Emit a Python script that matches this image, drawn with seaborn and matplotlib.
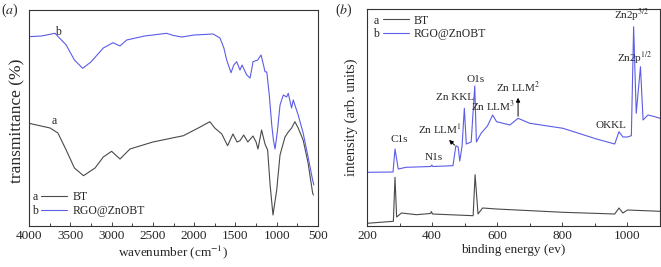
import matplotlib
matplotlib.use("Agg")
import matplotlib.pyplot as plt
from matplotlib.ticker import MultipleLocator
from matplotlib.lines import Line2D
import seaborn as sns
import pandas as pd

# (a) FTIR, transmittance in arbitrary offset units
ftir_bt_x = [4000, 3745, 3650, 3550, 3450, 3340, 3200, 3100, 3000, 2898, 2777, 2500, 2130,
             1950, 1810, 1750, 1665, 1595, 1530, 1480, 1445, 1400, 1350, 1287, 1250, 1227,
             1183, 1142, 1110, 1080, 1045, 1000, 960, 900, 860, 820, 780, 740, 680, 620, 565, 555]
ftir_bt_y = [102.7, 98, 93, 76, 58, 50.3, 58, 69, 74.7, 67, 77, 84, 90.3,
             98, 104.3, 98, 92, 80.3, 92, 84, 85.3, 91, 84, 90, 84, 77,
             96, 82, 76, 41, 11, 36, 71, 89, 94, 98, 104.3, 98, 86, 63, 33, 31]
ftir_rgo_x = [4000, 3850, 3685, 3550, 3450, 3350, 3250, 3100, 2983, 2898, 2817, 2600, 2333,
              2250, 2150, 2000, 1770, 1687, 1640, 1606, 1553, 1520, 1485, 1445, 1420, 1363,
              1323, 1300, 1287, 1230, 1190, 1160, 1142, 1120, 1090, 1060, 1040, 1020, 990,
              960, 920, 880, 860, 820, 800, 740, 680, 620, 565, 550]
ftir_rgo_y = [189.3, 190, 192.7, 181, 166, 157.7, 164, 178, 183.3, 180, 186, 190, 192.7,
              190.5, 189, 191, 192, 188, 178, 166, 153.3, 161, 164.3, 156, 161, 151,
              148, 158, 164.3, 166, 171, 161, 154.3, 154, 131, 101, 86, 77, 96,
              121, 131, 129, 132.7, 118, 126, 111, 93, 69, 46, 41]

# (b) XPS survey, intensity in arbitrary offset units
xps_bt_x = [200, 281, 286, 291, 306, 352, 395, 398, 401, 526, 532, 541, 555, 598,
            802, 961, 974, 986, 1000, 1100]
xps_bt_y = [2.7, 4.7, 48.7, 9, 13, 11.3, 12.5, 14.5, 12, 10.3, 51.3, 12, 18, 17,
            13.7, 12, 18, 13, 16, 14.7]
xps_rgo_x = [200, 280, 286, 296, 320, 396, 399, 402, 464, 473, 480, 485, 492, 499, 505,
             520, 531, 536, 551, 570, 586, 598, 639, 664, 700, 802, 905, 961, 974, 986,
             1000, 1012, 1019, 1027, 1040, 1048, 1063, 1084, 1100]
xps_rgo_y = [53.7, 54, 77, 57, 58.7, 59.5, 61, 59.5, 60.3, 80.3, 79, 65, 80, 117.7, 82,
             84, 140, 84, 93, 100, 111, 104.3, 101, 107.7, 102.7, 97.7, 87, 82, 94.3, 89,
             89, 90.3, 199.3, 112.7, 159.3, 106, 111, 109.3, 107.7]

xps_labels = ["C1s", "N1s", r"Zn LLM$^1$", "Zn KKL", "O1s", r"Zn LLM$^3$", r"Zn LLM$^2$",
              "OKKL", r"Zn2p$^{3/2}$", r"Zn2p$^{1/2}$"]
xps_label_x = [298, 404, 424, 470, 533, 588, 664, 948, 1012, 1022]
xps_label_y = [86, 68.7, 97, 128.3, 146, 120, 138.7, 100, 211, 168.7]

legend_names = ["BT", "RGO@ZnOBT"]
c_bt = "#4a4a4a"
c_rgo = "#5c5ce8"

sns.set_style("ticks")
plt.rcParams["font.family"] = ["Liberation Serif", "DejaVu Serif"]
plt.rcParams["mathtext.fontset"] = "stix"
plt.rcParams["font.size"] = 9.5

fig = plt.figure(figsize=(6.61, 2.67), dpi=100)
ax1 = fig.add_axes([29/661, 1-226/267, 289/661, 216/267])
ax2 = fig.add_axes([367/661, 1-226/267, 293/661, 217/267])

sns.lineplot(x=ftir_bt_x, y=ftir_bt_y, ax=ax1, color=c_bt, lw=0.8, sort=False)
sns.lineplot(x=ftir_rgo_x, y=ftir_rgo_y, ax=ax1, color=c_rgo, lw=0.8, sort=False)
ax1.set_xlim(4000, 500)
ax1.set_ylim(0, 216)
ax1.set_yticks([])
ax1.xaxis.set_major_locator(MultipleLocator(500))
ax1.xaxis.set_minor_locator(MultipleLocator(250))
ax1.set_xlabel("wavenumber (cm$^{-1}$)", labelpad=1)
ax1.set_ylabel("transmittance (%)", fontsize=12.5)
ax1.yaxis.set_label_coords(-0.014, 0.486)
ax1.text(3650, 188, "b", ha="center", va="bottom", fontsize=8.5)
ax1.text(3700, 99, "a", ha="center", va="bottom", fontsize=8.5)

sns.lineplot(x=xps_bt_x, y=xps_bt_y, ax=ax2, color=c_bt, lw=0.8, sort=False)
sns.lineplot(x=xps_rgo_x, y=xps_rgo_y, ax=ax2, color=c_rgo, lw=0.8, sort=False)
ax2.set_xlim(200, 1100)
ax2.set_ylim(0, 217)
ax2.set_yticks([])
ax2.xaxis.set_major_locator(MultipleLocator(200))
ax2.xaxis.set_minor_locator(MultipleLocator(100))
ax2.set_xlabel("binding energy (ev)", labelpad=1)
ax2.set_ylabel("intensity (arb. units)", fontsize=10.5)
ax2.yaxis.set_label_coords(-0.031, 0.5)
for lab, lx, ly in zip(xps_labels, xps_label_x, xps_label_y):
    ax2.text(lx, ly, lab, ha="center", va="center", fontsize=8)
ax2.annotate("", xy=(446, 88), xytext=(475, 79),
             arrowprops=dict(arrowstyle="-|>", color="black", lw=0.7, mutation_scale=6))
ax2.annotate("", xy=(664, 131), xytext=(664, 107),
             arrowprops=dict(arrowstyle="-|>", color="black", lw=0.7, mutation_scale=6))

for ax in (ax1, ax2):
    ax.tick_params(axis="x", which="major", direction="in", length=3, width=0.6, pad=3,
                   labelsize=9.5)
    ax.tick_params(axis="x", which="minor", direction="in", length=2, width=0.6)
    for s in ax.spines.values():
        s.set_linewidth(0.8)
        s.set_color("#333333")

handles = [Line2D([], [], color=c_bt, lw=0.8), Line2D([], [], color=c_rgo, lw=0.8)]
leg_pos = [(ax1, (0.035, 0.03)), (ax2, (0.045, 0.985))]
for ax, (bx, by) in leg_pos:
    loc = "lower left" if by < 0.5 else "upper left"
    leg = ax.legend(handles, legend_names, loc=loc, bbox_to_anchor=(bx, by), frameon=False,
                    fontsize=8.5, handlelength=2.2, handletextpad=0.4, labelspacing=0.15,
                    borderpad=0.2, borderaxespad=0)
    fig.canvas.draw()
    for txt, letter in zip(leg.get_texts(), ["a", "b"]):
        bb = txt.get_window_extent()
        cy = (bb.y0 + bb.y1) / 2
        x0 = leg.get_window_extent().x0
        fig.text(x0 / fig.dpi / 6.61 - 0.002, cy / fig.dpi / 2.67, letter, ha="right",
                 va="center", fontsize=8.5)

fig.text(0.001, 1-10/267, "($a$)", ha="left", va="center", fontsize=10)
fig.text(335/661, 1-10/267, "($b$)", ha="left", va="center", fontsize=10)

fig.savefig("out.png", dpi=100)
